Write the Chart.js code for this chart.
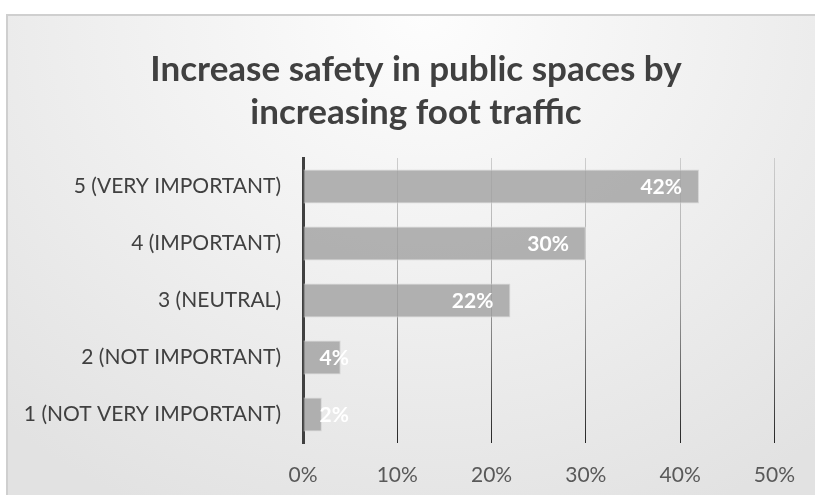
<!DOCTYPE html>
<html>
<head>
<meta charset="utf-8">
<script src="https://cdn.jsdelivr.net/npm/chart.js@4"></script>
<style>
  html, body { margin: 0; padding: 0; background: #fff; overflow: hidden; }
  #card {
    position: absolute; left: 6px; top: 14px; width: 830px; height: 500px;
    border-left: 2px solid #cfcfcf; border-top: 2px solid #cfcfcf;
    background: radial-gradient(ellipse 75% 110% at 50% 0%, #fdfdfd 0%, #f1f1f1 45%, #e2e2e2 100%);
  }
  #wrap { position: absolute; left: 0; top: 0; width: 815px; height: 495px; }
</style>
</head>
<body>
<div id="card"></div>
<div id="wrap"><canvas id="grafico"></canvas></div>
<script>
// dados do gráfico (de cima para baixo)
const categorias = ['5 (VERY IMPORTANT)', '4 (IMPORTANT)', '3 (NEUTRAL)', '2 (NOT IMPORTANT)', '1 (NOT VERY IMPORTANT)'];
const valores = [42, 30, 22, 4, 2];
const ticksX = [0, 10, 20, 30, 40, 50];
const titulo = ['Increase safety in public spaces by', 'increasing foot traffic'];

const fonte = "Lato, 'Open Sans', sans-serif";

// título centrado no cartão (não na área do gráfico)
const tituloPlugin = {
  id: 'tituloPlugin',
  afterDraw(chart) {
    const c = chart.ctx;
    c.save();
    c.font = 'bold 35px ' + fonte;
    c.fillStyle = '#404040';
    c.textAlign = 'center';
    c.textBaseline = 'alphabetic';
    c.fillText(titulo[0], 416, 81);
    c.fillText(titulo[1], 416, 124);
    c.restore();
  }
};

// rótulos brancos dentro das barras
const rotulos = {
  id: 'rotulos',
  afterDatasetsDraw(chart) {
    const c = chart.ctx;
    const meta = chart.getDatasetMeta(0);
    c.save();
    c.font = 'bold 21px ' + fonte;
    c.fillStyle = '#ffffff';
    c.textBaseline = 'middle';
    c.textAlign = 'left';
    meta.data.forEach((bar, i) => {
      const txt = valores[i] + '%';
      const w = c.measureText(txt).width;
      const x = Math.max(bar.x - 17 - w, bar.base + 16);
      c.fillText(txt, x, bar.y + 1);
    });
    c.restore();
  }
};

function corGrade(ctx) {
  const chart = ctx.chart;
  const area = chart.chartArea;
  if (!area) return '#bfbfbf';
  if (ctx.tick && ctx.tick.value === 0) return 'rgba(0,0,0,0)';
  const g = chart.ctx.createLinearGradient(0, area.top, 0, area.bottom);
  g.addColorStop(0, '#cdcdcd');
  g.addColorStop(0.5, '#a0a0a0');
  g.addColorStop(1, '#262626');
  return g;
}

const grafico = new Chart(document.getElementById('grafico'), {
  type: 'bar',
  data: {
    labels: categorias,
    datasets: [{
      data: valores,
      backgroundColor: 'rgba(160,160,160,0.8)',
      borderColor: '#d6d6d6',
      borderWidth: 1,
      categoryPercentage: 1,
      barPercentage: 0.6
    }]
  },
  options: {
    indexAxis: 'y',
    responsive: true,
    maintainAspectRatio: false,
    animation: false,
    layout: { padding: { left: 0, right: 38.5, top: 158, bottom: 0 } },
    plugins: {
      legend: { display: false },
      tooltip: { enabled: false },
      title: { display: false }
    },
    scales: {
      x: {
        min: 0,
        max: 50,
        afterBuildTicks(s) { s.ticks = ticksX.map(v => ({ value: v })); },
        afterFit(s) { s.height = 52; },
        border: { display: false },
        grid: { color: corGrade, lineWidth: 1, drawTicks: false },
        ticks: {
          color: '#595959',
          font: { family: fonte, size: 21 },
          padding: 20,
          callback: v => v + '%'
        }
      },
      y: {
        z: 1,
        afterFit(s) { s.width = 303; },
        grid: { display: false, drawTicks: false },
        border: { display: true, color: '#404040', width: 3 },
        ticks: {
          color: '#404040',
          font: { family: fonte, size: 21 },
          padding: 22
        }
      }
    }
  },
  plugins: [rotulos, tituloPlugin]
});
</script>
</body>
</html>
